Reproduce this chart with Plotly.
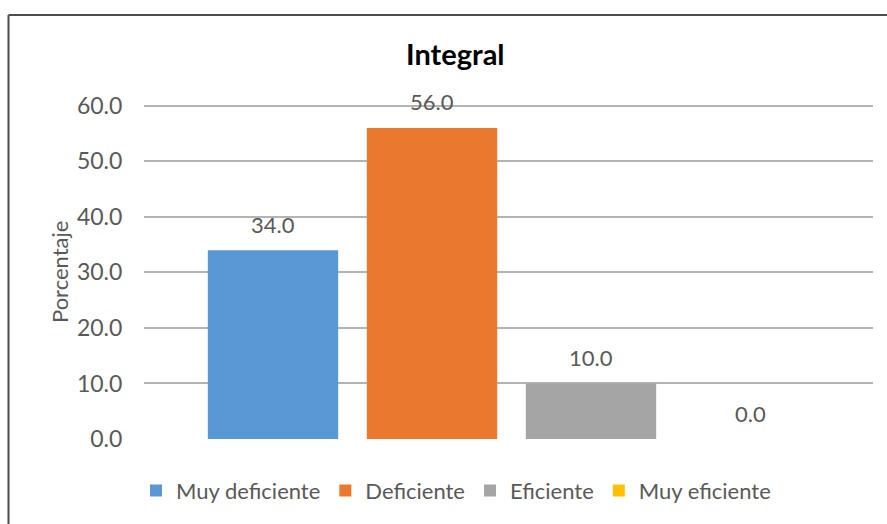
import plotly.graph_objects as go

categories = ["Muy deficiente", "Deficiente", "Eficiente", "Muy eficiente"]
values = [34.0, 56.0, 10.0, 0.0]
colors = ["#5A98D3", "#EB782F", "#A5A5A5", "#FFC000"]
y_ticks = [0, 10, 20, 30, 40, 50, 60]
y_tick_labels = ["0.0", "10.0", "20.0", "30.0", "40.0", "50.0", "60.0"]
title_text = "Integral"
y_title = "Porcentaje"

W, H = 887, 524
L, R, T, B = 144, 14, 103, 83
pw = W - L - R
ph = H - T - B
Y_MAX = 60.5

def px_x(p):
    return (p - L) / pw

def px_y(p):
    return (H - B - p) / ph

FONT = "Lato, 'Open Sans', sans-serif"
TXT = "#595959"

fig = go.Figure()
for c, v, col in zip(categories, values, colors):
    fig.add_trace(go.Bar(
        x=[c], y=[v], name=c,
        marker=dict(color=col, line=dict(width=0)),
        hoverinfo="skip",
    ))
    fig.add_annotation(
        x=c, y=v, xref="x", yref="y", text=f"{v:.1f}",
        showarrow=False, yshift=26, yanchor="middle",
        font=dict(family=FONT, size=22, color=TXT),
    )

# category spacing: 159 px per category, first centre at x=273 px
span = pw / 159.0
start = -(273 - L) / 159.0

fig.update_layout(
    width=W, height=H,
    margin=dict(l=L, r=R, t=T, b=B),
    paper_bgcolor="white", plot_bgcolor="white",
    barmode="overlay", bargap=0.18,
    showlegend=True,
    legend=dict(
        orientation="h", x=px_x(456), xanchor="center",
        y=px_y(493), yanchor="middle",
        font=dict(family=FONT, size=22, color=TXT),
        itemclick=False, tracegroupgap=0, itemwidth=30,
    ),
    xaxis=dict(
        type="category", categoryorder="array", categoryarray=categories,
        range=[start, start + span],
        showticklabels=False, showgrid=False, zeroline=False,
        showline=False, ticks="",
    ),
    yaxis=dict(
        range=[0, Y_MAX], tickvals=y_ticks, ticktext=y_tick_labels,
        showgrid=True, gridcolor="#B3B3B3", gridwidth=1.5,
        zeroline=False, showline=False,
        ticks="outside", ticklen=16, tickcolor="rgba(255,255,255,0)",
        tickfont=dict(family=FONT, size=23, color=TXT),
    ),
    font=dict(family=FONT, color=TXT),
)

fig.add_annotation(
    x=px_x(455), y=px_y(53), xref="paper", yref="paper",
    text=f"<b>{title_text}</b>", showarrow=False,
    xanchor="center", yanchor="middle",
    font=dict(family=FONT, size=29, color="#000000"),
)
fig.add_annotation(
    x=px_x(60), y=px_y(273), xref="paper", yref="paper",
    text=y_title, textangle=-90, showarrow=False,
    xanchor="center", yanchor="middle",
    font=dict(family=FONT, size=22, color=TXT),
)

# chart border (left and top edges visible in the frame)
fig.add_shape(type="line", xref="paper", yref="paper",
              x0=px_x(8.5), x1=px_x(8.5), y0=px_y(540), y1=px_y(14.5),
              line=dict(color="#4D4D4D", width=2))
fig.add_shape(type="line", xref="paper", yref="paper",
              x0=px_x(8.5), x1=px_x(900), y0=px_y(14.5), y1=px_y(14.5),
              line=dict(color="#4D4D4D", width=2))

fig.write_html("out.html", config={"displayModeBar": False})

with open("out.html", "r", encoding="utf-8") as f:
    html = f.read()
html = html.replace("<body>", '<body style="margin:0;padding:0;overflow:hidden">', 1)
with open("out.html", "w", encoding="utf-8") as f:
    f.write(html)
